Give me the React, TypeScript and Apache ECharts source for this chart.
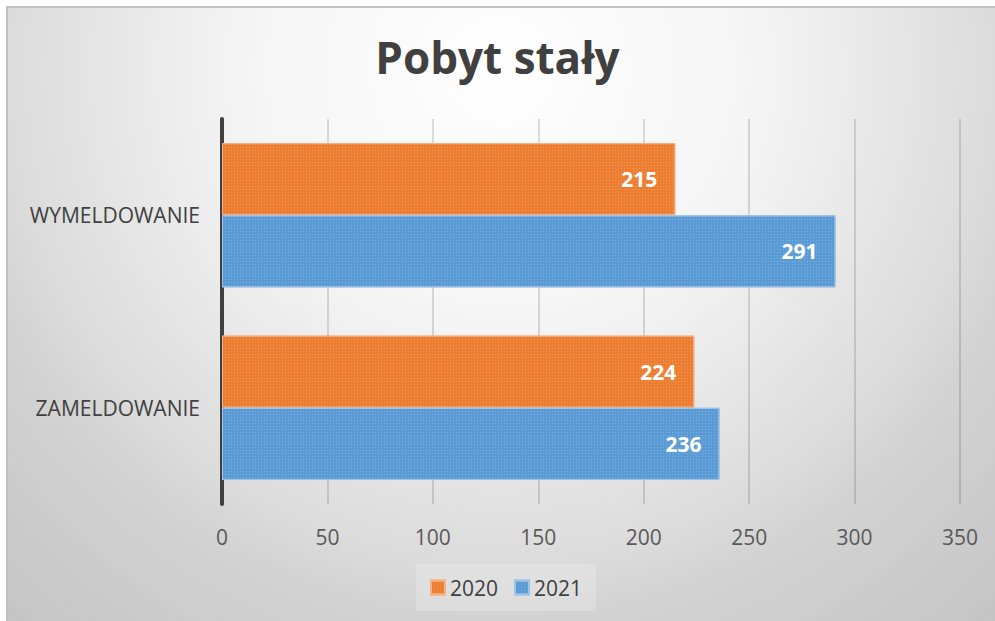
import React, { useEffect, useRef } from "react";
import * as echarts from "echarts";

const titleText = "Pobyt stały";
const categories = ["ZAMELDOWANIE", "WYMELDOWANIE"];
const seriesNames = ["2020", "2021"];
const values2020 = [224, 215];
const values2021 = [236, 291];
const axisMax = 350;
const axisStep = 50;

const FONT = "'Open Sans', 'DejaVu Sans', sans-serif";

export default function App() {
  const ref = useRef<HTMLDivElement>(null);

  useEffect(() => {
    document.body.style.margin = "0";
    const chart = echarts.init(ref.current!, null, { renderer: "svg" });
    const decal = {
      symbol: "rect",
      symbolSize: 1,
      dashArrayX: [1, 2],
      dashArrayY: [1, 2],
      color: "rgba(255,255,255,0.22)",
    };
    const label = {
      show: true,
      position: "insideRight",
      distance: 18,
      fontFamily: FONT,
      fontWeight: "bold",
      fontSize: 21,
      color: "#ffffff",
    };
    const option: any = {
      animation: false,
      graphic: [
        {
          type: "rect",
          z: -10,
          silent: true,
          shape: { x: 7, y: 7, width: 1000, height: 630 },
          style: {
            fill: new echarts.graphic.RadialGradient(
              500,
              70,
              750,
              [
                { offset: 0, color: "#ffffff" },
                { offset: 0.35, color: "#f4f4f4" },
                { offset: 0.65, color: "#dcdcdc" },
                { offset: 0.73, color: "#d3d3d3" },
                { offset: 1, color: "#c4c4c4" },
              ],
              true
            ),
            stroke: "#c0c0c0",
            lineWidth: 2,
          },
        },
      ],
      title: {
        text: titleText,
        left: "center",
        top: 30,
        textStyle: {
          fontFamily: FONT,
          fontWeight: "bold",
          fontSize: 44,
          color: "#404040",
        },
      },
      legend: {
        bottom: 10,
        left: 416,
        itemWidth: 14,
        itemHeight: 14,
        itemGap: 16,
        padding: [13, 14],
        backgroundColor: "rgba(255,255,255,0.2)",
        icon: "rect",
        textStyle: { fontFamily: FONT, fontSize: 21, color: "#404040" },
        data: seriesNames,
      },
      grid: { left: 222, right: 35, top: 119, bottom: 117 },
      xAxis: {
        type: "value",
        min: 0,
        max: axisMax,
        interval: axisStep,
        axisLine: { show: false },
        axisTick: { show: false },
        splitLine: { lineStyle: { color: "rgba(0,0,0,0.13)", width: 2 } },
        axisLabel: {
          fontFamily: FONT,
          fontSize: 21,
          color: "#595959",
          margin: 22,
        },
      },
      yAxis: {
        type: "category",
        data: categories,
        axisLine: { show: true, lineStyle: { color: "#404040", width: 4 } },
        axisTick: { show: false },
        axisLabel: {
          fontFamily: FONT,
          fontSize: 21,
          color: "#404040",
          margin: 22,
        },
      },
      series: [
        {
          name: seriesNames[0],
          type: "bar",
          data: values2020,
          barGap: "0%",
          barCategoryGap: "25%",
          itemStyle: {
            color: "#ed7d31",
            borderColor: "#f4b183",
            borderWidth: 1,
            decal,
          },
          label,
        },
        {
          name: seriesNames[1],
          type: "bar",
          data: values2021,
          barGap: "0%",
          barCategoryGap: "25%",
          itemStyle: {
            color: "#5b9bd5",
            borderColor: "#9dc3e6",
            borderWidth: 1,
            decal,
          },
          label,
        },
      ],
    };
    chart.setOption(option);
    return () => chart.dispose();
  }, []);

  return (
    <div
      ref={ref}
      style={{ position: "absolute", left: 0, top: 0, width: 995, height: 621 }}
    />
  );
}
